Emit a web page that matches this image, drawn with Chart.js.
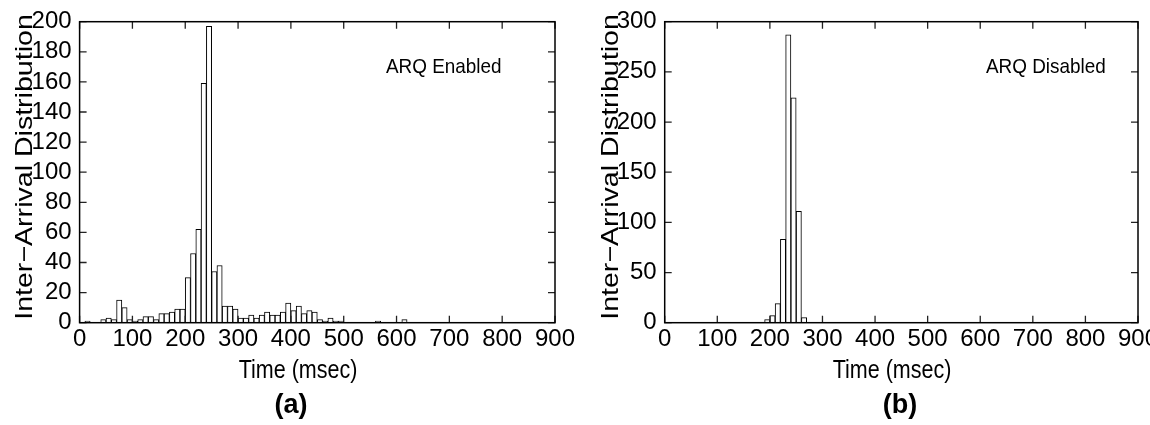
<!DOCTYPE html>
<html lang="en">
<head>
    <meta charset="UTF-8">
    <title>Inter-Arrival Distribution</title>
    <script src="https://cdn.jsdelivr.net/npm/chart.js"></script>
    <style>
        body {
            margin: 0;
            background-color: #ffffff;
        }

        .wrap {
            position: relative;
            width: 1150px;
            height: 425px;
        }

        canvas {
            position: absolute;
            top: 0;
        }
    </style>
</head>
<body>

    <div class="wrap">
        <canvas id="chartA" width="575" height="425" style="left:0"></canvas>
        <canvas id="chartB" width="575" height="425" style="left:575px"></canvas>
    </div>

    <script>
        // histogram bins are 10 msec wide
        const binWidth = 10;

        // (a) ARQ enabled: counts per bin, first bin starts at 0 msec
        const enabledFirstBin = 0;
        const enabledCounts = [
            0, 1, 0, 0, 2, 3, 2, 15, 10, 2,
            1, 2, 4, 4, 2, 6, 6, 7, 9, 9,
            30, 46, 62, 159, 197, 34, 38, 11, 11, 9,
            3, 3, 5, 3, 5, 7, 5, 5, 7, 13,
            8, 11, 6, 8, 7, 2, 1, 3, 1, 1,
            0, 0, 0, 0, 0, 0, 1, 0, 0, 0,
            0, 2
        ];

        // (b) ARQ disabled: first bin starts at 190 msec
        const disabledFirstBin = 190;
        const disabledCounts = [3, 7, 19, 83, 287, 224, 111, 5];

        // axis ranges / tick steps
        const xMax = 900;
        const xStep = 100;
        const yMaxA = 200;
        const yStepA = 20;
        const yMaxB = 300;
        const yStepB = 50;

        const yTitle = 'Inter\u2212Arrival Distribution';
        const xTitle = 'Time (msec)';

        Chart.defaults.font.family = "'Liberation Sans', Arial, sans-serif";
        Chart.defaults.font.size = 24;
        Chart.defaults.color = '#000';

        function toPoints(firstBin, counts) {
            return counts.map((c, i) => ({ x: firstBin + i * binWidth + binWidth / 2, y: c }));
        }

        // text helper: draw with horizontal squeeze like the original figure
        function stretchedText(ctx, text, x, y, font, sx, sy, align) {
            ctx.save();
            ctx.font = font;
            ctx.fillStyle = '#000';
            ctx.textAlign = align || 'center';
            ctx.textBaseline = 'alphabetic';
            ctx.translate(x, y);
            ctx.scale(sx, sy);
            ctx.fillText(text, 0, 0);
            ctx.restore();
        }

        // frame, inward ticks on all sides, labels and caption
        const decor = {
            id: 'decor',
            afterDraw(chart, args, o) {
                const { ctx, chartArea: a, scales } = chart;
                ctx.save();
                ctx.strokeStyle = '#222';
                ctx.lineWidth = 1.3;
                const tl = 7;
                ctx.beginPath();
                scales.x.ticks.forEach(t => {
                    const px = scales.x.getPixelForValue(t.value);
                    ctx.moveTo(px, a.bottom); ctx.lineTo(px, a.bottom - tl);
                    ctx.moveTo(px, a.top); ctx.lineTo(px, a.top + tl);
                });
                scales.y.ticks.forEach(t => {
                    const py = scales.y.getPixelForValue(t.value);
                    ctx.moveTo(a.left, py); ctx.lineTo(a.left + tl, py);
                    ctx.moveTo(a.right, py); ctx.lineTo(a.right - tl, py);
                });
                ctx.stroke();
                ctx.strokeStyle = '#000';
                ctx.lineWidth = 1.5;
                ctx.strokeRect(a.left, a.top, a.right - a.left, a.bottom - a.top);
                ctx.restore();

                // y title, rotated
                ctx.save();
                ctx.translate(o.yTitleX, o.yTitleY);
                ctx.rotate(-Math.PI / 2);
                stretchedText(ctx, yTitle, 0, 0, '24px "Liberation Sans"', 1.19, 1, 'center');
                ctx.restore();

                stretchedText(ctx, xTitle, o.xTitleX, 378, '25px "Liberation Sans"', 0.86, 1, 'center');
                stretchedText(ctx, o.sub, o.subX, 413, 'bold 27px "Liberation Sans"', 1, 1, 'center');
                stretchedText(ctx, o.note, o.noteX, 73, '21px "Liberation Sans"', 0.9, 1, 'left');
            }
        };

        function makeChart(id, points, yMax, yStep, box, decorOpts) {
            return new Chart(document.getElementById(id), {
                type: 'bar',
                data: {
                    datasets: [{
                        data: points,
                        backgroundColor: '#ffffff',
                        borderColor: '#000000',
                        borderWidth: 1,
                        barPercentage: 1,
                        categoryPercentage: 1
                    }]
                },
                options: {
                    responsive: false,
                    animation: false,
                    layout: { padding: { top: box.top, right: box.right, left: 0, bottom: 0 } },
                    plugins: {
                        legend: { display: false },
                        tooltip: { enabled: false },
                        decor: decorOpts
                    },
                    scales: {
                        x: {
                            type: 'linear',
                            offset: false,
                            min: 0,
                            max: xMax,
                            grid: { display: false, drawTicks: false },
                            border: { display: false },
                            ticks: { stepSize: xStep, padding: 2, maxRotation: 0, autoSkip: false },
                            afterFit(s) {
                                s.height = box.bottomSpace;
                                s.paddingLeft = 0;
                                s.paddingRight = 0;
                            }
                        },
                        y: {
                            min: 0,
                            max: yMax,
                            grid: { display: false, drawTicks: false },
                            border: { display: false },
                            ticks: { stepSize: yStep, padding: 8, autoSkip: false },
                            afterFit(s) {
                                s.width = box.left;
                                s.paddingTop = 0;
                                s.paddingBottom = 0;
                            }
                        }
                    }
                },
                plugins: [decor]
            });
        }

        makeChart('chartA', toPoints(enabledFirstBin, enabledCounts), yMaxA, yStepA,
            { left: 79.6, right: 20, top: 21.7, bottomSpace: 102.3 },
            { yTitleX: 32, yTitleY: 167, xTitleX: 298, subX: 291, sub: '(a)', note: 'ARQ Enabled', noteX: 386 });

        makeChart('chartB', toPoints(disabledFirstBin, disabledCounts), yMaxB, yStepB,
            { left: 89.7, right: 12, top: 21.7, bottomSpace: 102.3 },
            { yTitleX: 43, yTitleY: 167, xTitleX: 317, subX: 325, sub: '(b)', note: 'ARQ Disabled', noteX: 411 });
    </script>

</body>
</html>
